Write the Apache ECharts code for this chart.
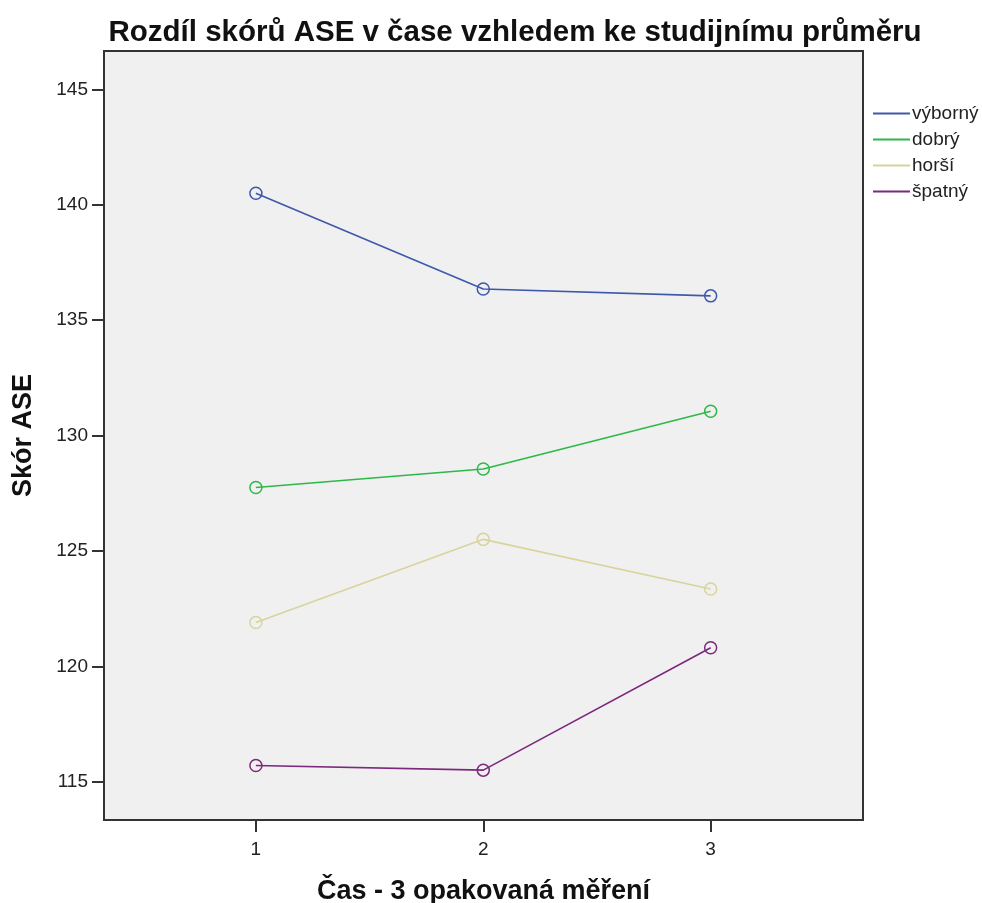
<!DOCTYPE html>
<html>
<head>
<meta charset="utf-8">
<script src="https://cdn.jsdelivr.net/npm/echarts@6/dist/echarts.min.js"></script>
<style>
  html, body { margin: 0; padding: 0; background: #fff; }
  #chart { width: 982px; height: 903px; }
</style>
</head>
<body>
<div id="chart"></div>
<script>
// measurement times (x axis)
var times = [1, 2, 3]
var xTicks = [1, 2, 3]
var yTicks = [115, 120, 125, 130, 135, 140, 145]

var groups = ['výborný', 'dobrý', 'horší', 'špatný']
var vyborny = [140.5, 136.35, 136.05]
var dobry = [127.75, 128.55, 131.05]
var horsi = [121.9, 125.5, 123.35]
var spatny = [115.7, 115.5, 120.8]

var colors = ['#3E58AC', '#2EB848', '#D8D49C', '#7C287D']

function pairs(vals) {
  return times.map(function(t, i) { return [t, vals[i]] })
}

var chart = echarts.init(document.getElementById('chart'))

var seriesData = [vyborny, dobry, horsi, spatny]
var series = groups.map(function(name, i) {
  return {
    name: name,
    type: 'line',
    data: pairs(seriesData[i]),
    symbol: 'circle',
    symbolSize: 12,
    lineStyle: { color: colors[i], width: 1.6 },
    itemStyle: { color: 'transparent', borderColor: colors[i], borderWidth: 1.5 },
    emphasis: { disabled: true },
    animation: false
  }
})

chart.setOption({
  backgroundColor: '#ffffff',
  textStyle: { fontFamily: 'Liberation Sans, Arial, sans-serif' },
  title: {
    text: 'Rozdíl skórů ASE v čase vzhledem ke studijnímu průměru',
    left: 510,
    textAlign: 'center',
    top: 13,
    textStyle: { fontSize: 29.5, fontWeight: 'bold', color: '#111' }
  },
  legend: {
    data: groups.map(function(g, i) {
      return { name: g, itemStyle: { color: colors[i], borderWidth: 0 } }
    }),
    orient: 'vertical',
    left: 868,
    top: 99,
    icon: 'rect',
    itemWidth: 37,
    itemHeight: 2,
    itemGap: 7,
    textStyle: { fontSize: 19, color: '#222', padding: [0, 0, 0, -3] }
  },
  grid: {
    left: 104,
    right: 119,
    top: 51,
    bottom: 83,
    containLabel: false,
    outerBoundsMode: 'none',
    show: true,
    backgroundColor: '#F0F0F0',
    borderColor: '#333',
    borderWidth: 2
  },
  xAxis: {
    type: 'value',
    min: 0.332,
    max: 3.67,
    name: 'Čas - 3 opakovaná měření',
    nameLocation: 'middle',
    nameGap: 58,
    nameTextStyle: { fontSize: 27, fontWeight: 'bold', color: '#111' },
    axisLine: { show: true, lineStyle: { color: '#333', width: 2 } },
    axisTick: { show: true, customValues: xTicks, length: 12, lineStyle: { color: '#333', width: 2 } },
    axisLabel: { customValues: xTicks, fontSize: 19, color: '#222', margin: 20 },
    splitLine: { show: false }
  },
  yAxis: {
    type: 'value',
    min: 113.34,
    max: 146.66,
    name: 'Skór ASE',
    nameLocation: 'middle',
    nameGap: 67,
    nameTextStyle: { fontSize: 27, fontWeight: 'bold', color: '#111' },
    axisLine: { show: true, lineStyle: { color: '#333', width: 2 } },
    axisTick: { show: true, customValues: yTicks, length: 12, lineStyle: { color: '#333', width: 2 } },
    axisLabel: { customValues: yTicks, fontSize: 19, color: '#222', margin: 16 },
    splitLine: { show: false }
  },
  series: series
})
</script>
</body>
</html>
